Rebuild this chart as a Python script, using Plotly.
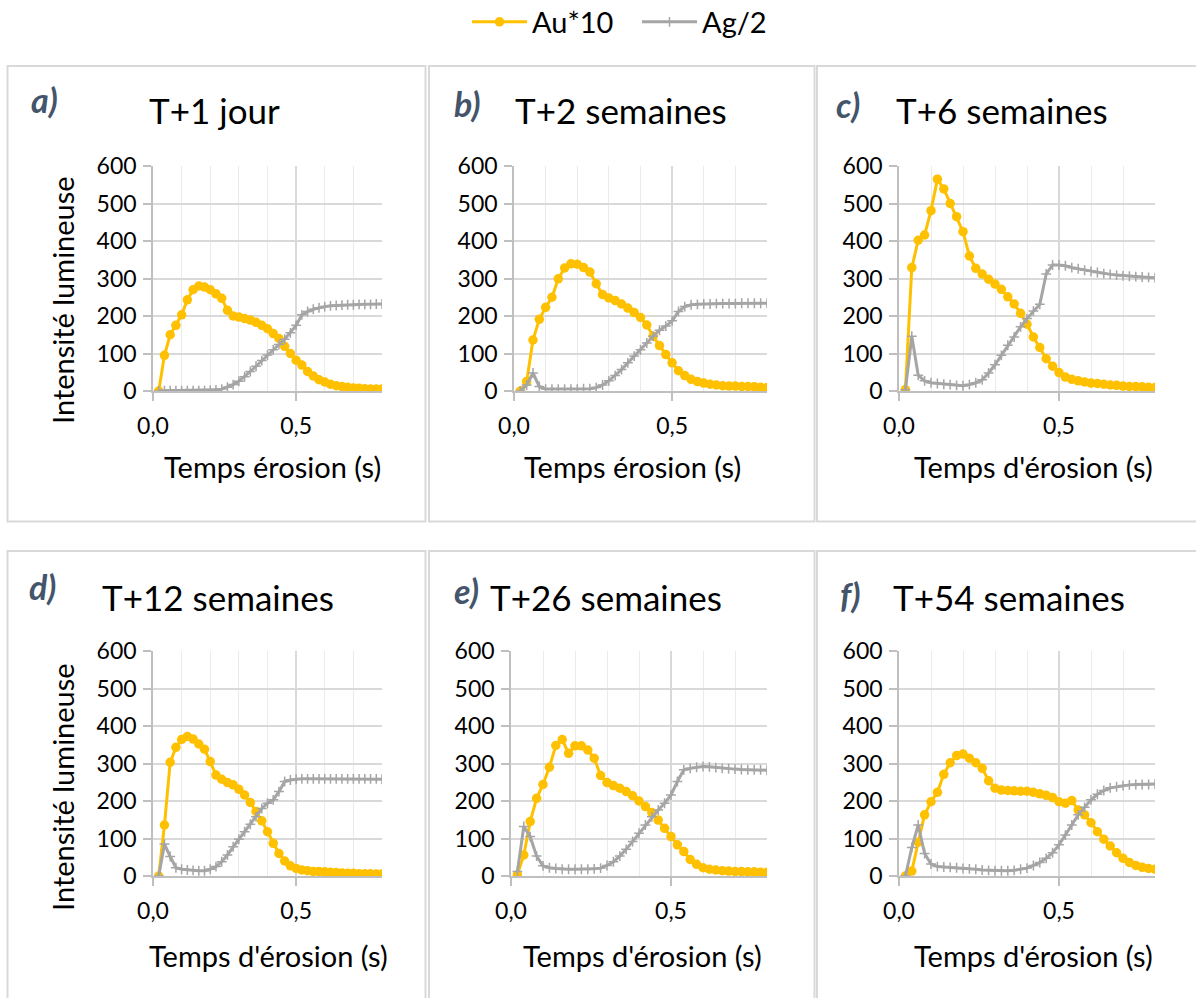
import plotly.graph_objects as go

W, H = 1196, 998

# Time axis (s): 40 acquisition points
t = [round(0.02 * k, 2) for k in range(1, 41)]

au_a = [0, 95, 150, 175, 203, 243, 270, 280, 277, 270, 259, 247, 215, 200, 197, 193, 189, 183, 175, 166,
        153, 140, 119, 100, 82, 69, 52, 40, 30, 24, 18, 14, 12, 10, 8, 7, 6, 5, 5, 5]
ag_a = [0, 1, 1, 1, 1, 1, 1, 1, 1, 2, 3, 5, 10, 17, 26, 38, 52, 66, 81, 96,
        110, 124, 138, 155, 175, 203, 212, 218, 222, 225, 227, 228, 229, 230, 230, 231, 231, 231, 232, 232]

au_b = [0, 25, 136, 191, 223, 250, 299, 328, 339, 338, 329, 317, 286, 257, 248, 241, 232, 221, 209, 196,
        176, 146, 121, 97, 75, 54, 41, 31, 25, 21, 18, 16, 14, 13, 13, 12, 12, 11, 10, 9]
ag_b = [0, 16, 48, 12, 5, 5, 5, 5, 5, 5, 6, 6, 9, 16, 27, 41, 57, 75, 93, 110,
        128, 146, 162, 173, 187, 212, 225, 230, 231, 232, 232, 233, 233, 233, 233, 234, 234, 234, 234, 234]

au_c = [4, 329, 402, 416, 481, 565, 539, 500, 465, 425, 360, 327, 312, 298, 285, 271, 251, 232, 207, 178,
        144, 116, 86, 66, 49, 37, 31, 27, 24, 21, 20, 18, 16, 15, 13, 12, 12, 11, 10, 9]
ag_c = [3, 146, 42, 27, 22, 20, 18, 17, 15, 14, 17, 22, 30, 48, 70, 95, 122, 144, 171, 193,
        213, 231, 312, 336, 336, 334, 329, 326, 322, 319, 316, 313, 311, 309, 307, 306, 305, 304, 303, 302]

au_d = [0, 136, 303, 343, 364, 372, 365, 352, 338, 305, 269, 258, 249, 243, 231, 216, 196, 172, 147, 118,
        87, 60, 40, 27, 20, 16, 14, 12, 12, 11, 10, 9, 8, 7, 7, 6, 6, 6, 5, 5]
ag_d = [0, 85, 52, 22, 18, 16, 15, 14, 14, 18, 25, 38, 56, 78, 98, 118, 138, 158, 180, 194,
        203, 225, 252, 256, 258, 259, 259, 259, 259, 259, 259, 259, 259, 259, 259, 259, 259, 259, 259, 258]

au_e = [3, 56, 145, 207, 244, 290, 348, 364, 327, 347, 347, 336, 314, 268, 249, 241, 234, 225, 214, 200,
        185, 169, 149, 127, 105, 83, 65, 44, 31, 22, 18, 16, 14, 13, 12, 12, 11, 11, 10, 10]
ag_e = [12, 132, 105, 53, 27, 22, 20, 18, 18, 18, 18, 18, 19, 21, 28, 38, 53, 71, 92, 114,
        136, 158, 176, 194, 216, 252, 283, 287, 290, 292, 291, 289, 287, 286, 285, 284, 283, 283, 283, 282]

au_f = [0, 13, 90, 163, 198, 223, 271, 302, 321, 325, 314, 302, 287, 254, 234, 229, 228, 227, 226, 226,
        223, 219, 215, 209, 198, 194, 201, 176, 163, 142, 118, 98, 80, 62, 47, 36, 28, 23, 20, 18]
ag_f = [0, 76, 136, 60, 32, 25, 24, 23, 22, 20, 19, 18, 16, 15, 14, 14, 14, 15, 18, 21,
        28, 36, 47, 62, 83, 109, 136, 163, 183, 203, 218, 228, 235, 238, 241, 243, 244, 244, 244, 245]

titles = ["T+1 jour", "T+2 semaines", "T+6 semaines", "T+12 semaines", "T+26 semaines", "T+54 semaines"]
letters = ["a)", "b)", "c)", "d)", "e)", "f)"]
xtitles = ["Temps érosion (s)", "Temps érosion (s)", "Temps d'érosion (s)",
           "Temps d'érosion (s)", "Temps d'érosion (s)", "Temps d'érosion (s)"]
ytitle = "Intensité lumineuse"
x_ticks = [0, 0.5]
x_ticktext = ["0,0", "0,5"]
y_ticks = [0, 100, 200, 300, 400, 500, 600]

au_series = [au_a, au_b, au_c, au_d, au_e, au_f]
ag_series = [ag_a, ag_b, ag_c, ag_d, ag_e, ag_f]

# layout geometry (pixels)
plot_px = [(153, 382, 166, 391), (514, 767, 166, 391), (899, 1155, 166, 391),
           (153, 382, 651, 876), (511, 767, 651, 876), (899, 1155, 651, 876)]
title_px = [(214, 110), (621, 110), (1002, 110), (218, 597), (606, 597), (1009, 597)]
letter_px = [(44, 100), (467, 103), (848, 105), (43, 586), (466, 590), (850, 594)]
xtitle_px = [(272, 467), (632, 467), (1033, 467), (268, 955), (642, 955), (1033, 955)]
ytitle_px = [(62, 300), None, None, (62, 787), None, None]
boxes_px = [(7.5, 425.5, 66, 521.5), (429, 814.5, 66, 521.5), (817, 1205, 66, 521.5),
            (7.5, 425.5, 551, 1010), (429, 814.5, 551, 1010), (817, 1205, 551, 1010)]

FONT = "Lato"
GOLD = "#FFC000"
GREY = "#A5A5A5"

def fx(px):
    return px / W

def fy(py):
    return 1 - py / H

fig = go.Figure()
layout = dict(width=W, height=H, margin=dict(l=0, r=0, t=0, b=0, autoexpand=False),
              paper_bgcolor="white", plot_bgcolor="white",
              font=dict(family=FONT, size=23, color="#000000"),
              showlegend=True,
              legend=dict(orientation="h", x=fx(467), xanchor="left", y=fy(22), yanchor="middle",
                          font=dict(family=FONT, size=29), itemwidth=55, bgcolor="rgba(0,0,0,0)",
                          entrywidth=100, entrywidthmode="pixels", tracegroupgap=0))

annotations = []
shapes = []
for i in range(6):
    n = "" if i == 0 else str(i + 1)
    xa, ya = "x" + n, "y" + n
    fig.add_trace(go.Scatter(x=t, y=au_series[i], mode="lines+markers", name="Au*10",
                             xaxis=xa, yaxis=ya, showlegend=(i == 0), legendgroup="au",
                             line=dict(color=GOLD, width=3),
                             marker=dict(symbol="circle", size=9.5, color=GOLD)))
    fig.add_trace(go.Scatter(x=t, y=ag_series[i], mode="lines+markers", name="Ag/2",
                             xaxis=xa, yaxis=ya, showlegend=(i == 0), legendgroup="ag",
                             line=dict(color=GREY, width=3),
                             marker=dict(symbol="cross-thin", size=7, color=GREY,
                                         line=dict(color=GREY, width=1.5))))
    x0, x1, y0, y1 = plot_px[i]
    layout["xaxis" + n] = dict(domain=[fx(x0), fx(x1)], anchor=ya, range=[0, 0.8],
                               tickvals=x_ticks, ticktext=x_ticktext, ticks="outside", ticklen=8,
                               tickcolor="#BFBFBF", tickwidth=1.5,
                               showline=True, linecolor="#BFBFBF", linewidth=1.5,
                               showgrid=True, gridcolor="#D9D9D9", gridwidth=1.5,
                               minor=dict(dtick=0.1, tick0=0, showgrid=True, gridcolor="#EBEBEB",
                                          gridwidth=1.2),
                               zeroline=False, ticklabelstandoff=6, automargin=False,
                               tickfont=dict(family=FONT, size=23), fixedrange=True)
    layout["yaxis" + n] = dict(domain=[fy(y1), fy(y0)], anchor=xa, range=[0, 600],
                               tickvals=y_ticks, ticks="outside", ticklen=8,
                               tickcolor="#BFBFBF", tickwidth=1.5,
                               showline=True, linecolor="#BFBFBF", linewidth=1.5,
                               showgrid=True, gridcolor="#D9D9D9", gridwidth=1.5,
                               zeroline=False, ticklabelstandoff=2, automargin=False,
                               tickfont=dict(family=FONT, size=23), fixedrange=True)
    cx, cy = title_px[i]
    annotations.append(dict(text=titles[i], x=fx(cx), y=fy(cy), xref="paper", yref="paper",
                            showarrow=False, xanchor="center", yanchor="middle",
                            font=dict(family=FONT, size=35, color="#000000")))
    lx, ly = letter_px[i]
    annotations.append(dict(text="<b><i>" + letters[i] + "</i></b>", x=fx(lx), y=fy(ly),
                            xref="paper", yref="paper", showarrow=False,
                            xanchor="center", yanchor="middle",
                            font=dict(family=FONT, size=34, color="#44546A")))
    tx, ty = xtitle_px[i]
    annotations.append(dict(text=xtitles[i], x=fx(tx), y=fy(ty), xref="paper", yref="paper",
                            showarrow=False, xanchor="center", yanchor="middle",
                            font=dict(family=FONT, size=29, color="#000000")))
    if ytitle_px[i] is not None:
        yx, yy = ytitle_px[i]
        annotations.append(dict(text=ytitle, x=fx(yx), y=fy(yy), xref="paper", yref="paper",
                                showarrow=False, xanchor="center", yanchor="middle", textangle=-90,
                                font=dict(family=FONT, size=29, color="#000000")))
    bx0, bx1, by0, by1 = boxes_px[i]
    shapes.append(dict(type="rect", xref="paper", yref="paper",
                       x0=fx(bx0), x1=fx(bx1), y0=fy(by1), y1=fy(by0),
                       line=dict(color="#D9D9D9", width=2), layer="below"))

layout["annotations"] = annotations
layout["shapes"] = shapes
fig.update_layout(**layout)
fig.write_html("out.html", config={"displayModeBar": False},
               post_script="document.body.style.margin='0';document.body.style.overflow='hidden';")
